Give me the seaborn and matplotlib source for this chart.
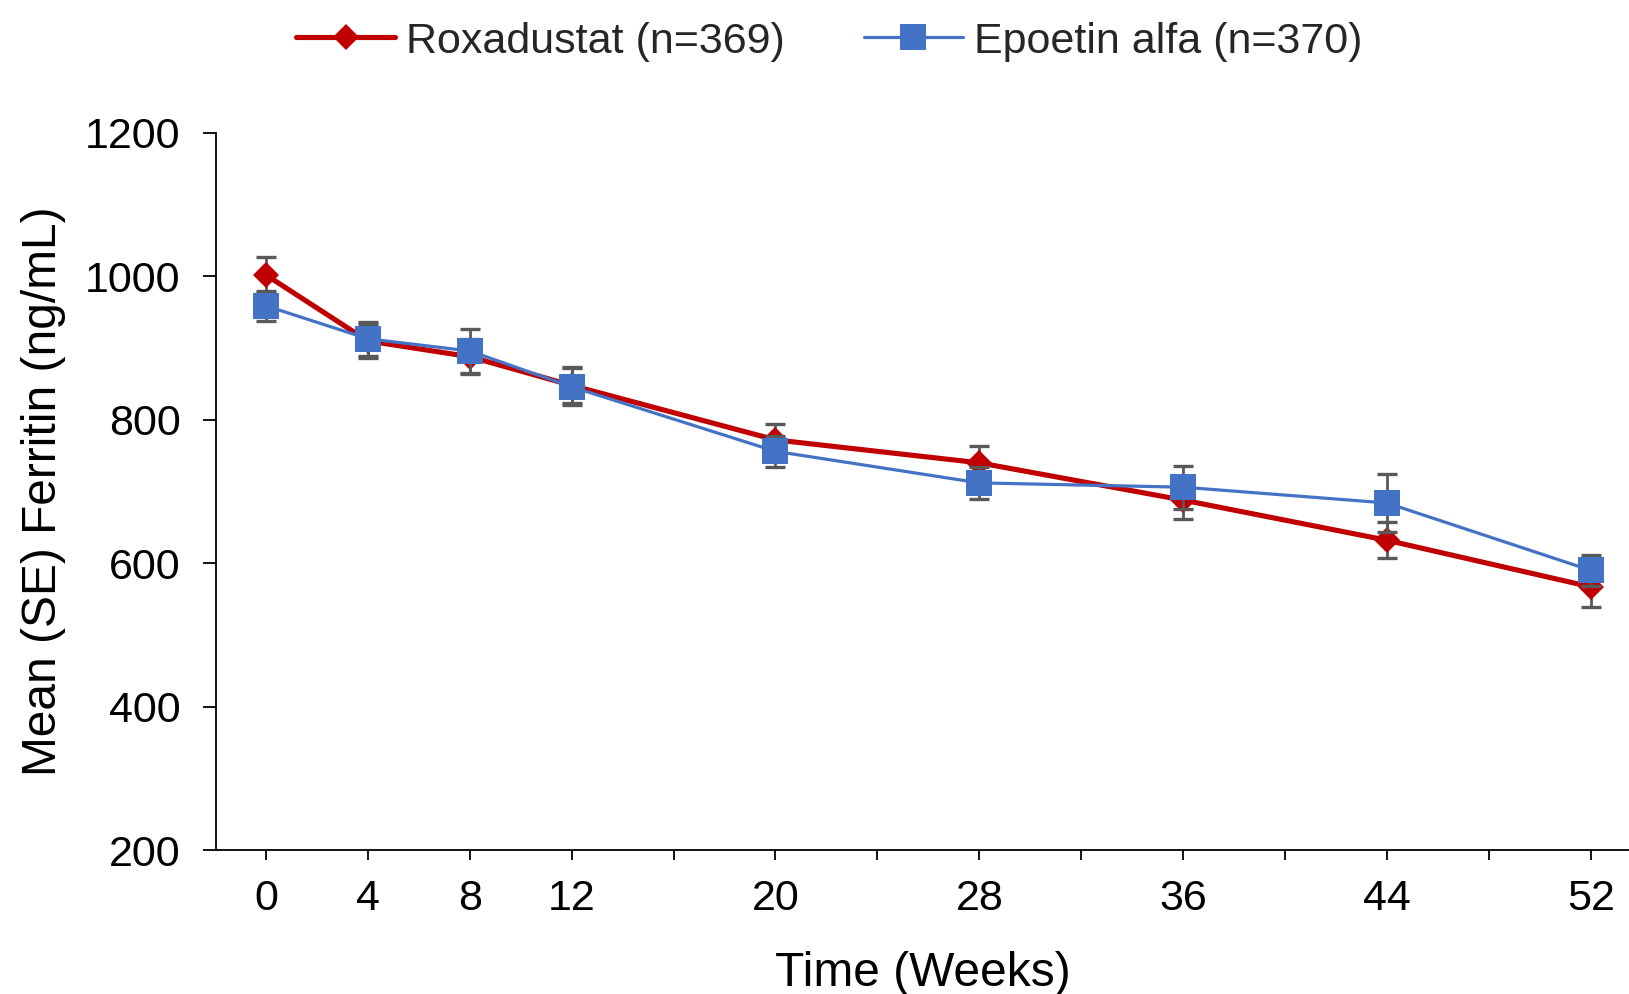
import matplotlib
matplotlib.use("Agg")
import matplotlib.pyplot as plt
import numpy as np
import pandas as pd
import seaborn as sns
from matplotlib.lines import Line2D

# ---- data ----
weeks = [0, 4, 8, 12, 20, 28, 36, 44, 52]
roxa_mean = [1002, 910, 888, 848, 772, 740, 688, 632, 567]
roxa_se = [25, 24, 24, 25, 22, 23, 26, 25, 28]
epo_mean = [959, 913, 896, 846, 756, 712, 706, 684, 590]
epo_se = [21, 24, 31, 26, 22, 22, 30, 40, 22]
series_names = ["Roxadustat (n=369)", "Epoetin alfa (n=370)"]
tick_weeks = list(range(0, 53, 4))
labeled_weeks = [0, 4, 8, 12, 20, 28, 36, 44, 52]
y_ticks = [200, 400, 600, 800, 1000, 1200]
x_label = "Time (Weeks)"
y_label = "Mean (SE) Ferritin (ng/mL)"

sns.set_theme(style="ticks")
plt.rcParams["font.family"] = ["Liberation Sans", "DejaVu Sans"]

RED = "#C00000"
BLUE = "#4472C4"
GREY = "#595959"

fig = plt.figure(figsize=(16.29, 9.94), dpi=100)
ax = fig.add_axes([216 / 1629, 144 / 994, 1 - 216 / 1629, 717 / 994])

df_r = pd.DataFrame({"week": weeks, "mean": roxa_mean, "se": roxa_se})
df_e = pd.DataFrame({"week": weeks, "mean": epo_mean, "se": epo_se})

# error bars (behind markers)
ax.errorbar(df_r["week"], df_r["mean"], yerr=df_r["se"], fmt="none",
            ecolor=GREY, elinewidth=2.0, capsize=7.5, capthick=2.4, zorder=1)
ax.errorbar(df_e["week"], df_e["mean"], yerr=df_e["se"], fmt="none",
            ecolor=GREY, elinewidth=2.0, capsize=7.5, capthick=2.4, zorder=3)

sns.lineplot(data=df_r, x="week", y="mean", ax=ax, color=RED, linewidth=3.7,
             marker="D", markersize=13.5, markeredgewidth=0, markerfacecolor=RED,
             errorbar=None, zorder=2)
sns.lineplot(data=df_e, x="week", y="mean", ax=ax, color=BLUE, linewidth=2.3,
             marker="s", markersize=18.5, markeredgewidth=0, markerfacecolor=BLUE,
             errorbar=None, zorder=4)

ax.set_xlim(-1.96, 53.5)
ax.set_ylim(200, 1200)
ax.set_xticks(tick_weeks)
ax.set_xticklabels([str(w) if w in labeled_weeks else "" for w in tick_weeks])
ax.set_yticks(y_ticks)
ax.set_yticklabels([str(v) for v in y_ticks])

for side in ["top", "right"]:
    ax.spines[side].set_visible(False)
for side in ["left", "bottom"]:
    ax.spines[side].set_color("#000000")
    ax.spines[side].set_linewidth(1.3)

ax.tick_params(axis="y", direction="out", length=9.5, width=1.3, color="black",
               labelsize=31, pad=16, labelcolor="black")
ax.tick_params(axis="x", direction="out", length=7, width=1.3, color="black",
               labelsize=31, pad=14, labelcolor="black")

ax.set_xlabel(x_label, fontsize=34.5, labelpad=23, color="black")
ax.set_ylabel(y_label, fontsize=34.5, color="black")
ax.yaxis.set_label_coords(-0.106, 0.5)

handles = [
    Line2D([0], [0], color=RED, lw=3.7, marker="D", markersize=12.8,
           markeredgewidth=0),
    Line2D([0], [0], color=BLUE, lw=2.3, marker="s", markersize=18.5,
           markeredgewidth=0),
]
fig.legend(handles, series_names, loc="center", bbox_to_anchor=(0.509, 1 - 41.5 / 994),
           ncol=2, frameon=False, fontsize=31, handlelength=2.3,
           handletextpad=0.25, columnspacing=1.84, borderaxespad=0)

fig.savefig("out.png", dpi=100, facecolor="white")
